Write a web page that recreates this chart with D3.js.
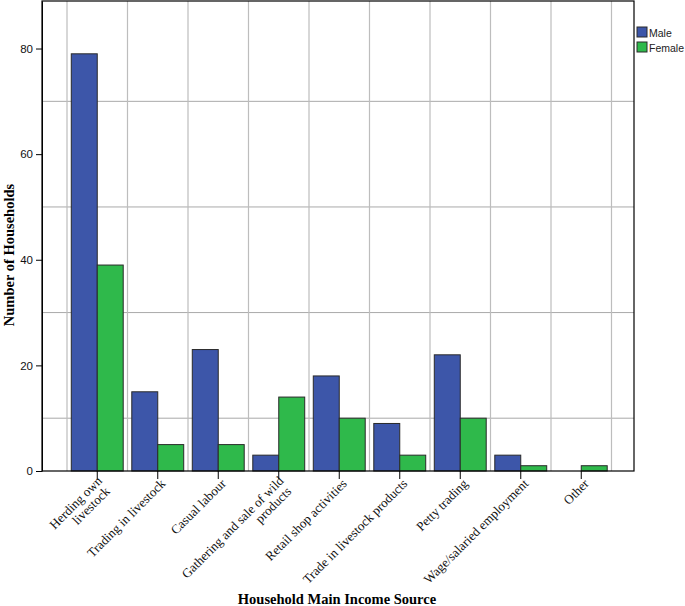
<!DOCTYPE html>
<html>
<head>
<meta charset="utf-8">
<script src="https://cdn.jsdelivr.net/npm/d3@7"></script>
<style>
  html, body { margin: 0; padding: 0; background: #fff; }
  svg { display: block; }
</style>
</head>
<body>
<svg id="chart" width="685" height="606"></svg>
<script>
const categories = [
  ["Herding own", "livestock"],
  ["Trading in livestock"],
  ["Casual labour"],
  ["Gathering and sale of wild", "products"],
  ["Retail shop activities"],
  ["Trade in livestock products"],
  ["Petty trading"],
  ["Wage/salaried employment"],
  ["Other"]
];
const seriesNames = ["Male", "Female"];
const maleValues   = [79, 15, 23, 3, 18, 9, 22, 3, 0];
const femaleValues = [39, 5, 5, 14, 10, 3, 10, 1, 1];
const yTickLabels = [0, 20, 40, 60, 80];
const yGridValues = [10, 30, 50, 70];
const colors = ["#3d56a9", "#2fb94b"];

(function () {
const svg = d3.select("#chart");
const pL = 42, pR = 634, pT = 1, pB = 471;
const catKeys = categories.map(c => c.join(" "));

const x = d3.scaleBand().domain(catKeys).range([67, 611.5]).padding(0);
const xs = d3.scaleBand().domain(seriesNames).range([0, x.bandwidth()]).paddingInner(0).paddingOuter(0.165);
const y = d3.scaleLinear().domain([0, 89]).range([pB, pT]);

// gridlines
const g = svg.append("g");
g.selectAll("line.hg").data(yGridValues).join("line")
  .attr("x1", pL).attr("x2", pR)
  .attr("y1", d => y(d)).attr("y2", d => y(d))
  .attr("stroke", "#a9a9a9").attr("stroke-width", 1);
const vx = catKeys.map(k => x(k)).concat([x.range()[1]]);
g.selectAll("line.vg").data(vx).join("line")
  .attr("x1", d => d).attr("x2", d => d)
  .attr("y1", pT).attr("y2", pB)
  .attr("stroke", "#bdbdbd").attr("stroke-width", 1.2);

// bars
const data = [];
catKeys.forEach((k, i) => {
  data.push({cat: k, s: "Male", v: maleValues[i]});
  data.push({cat: k, s: "Female", v: femaleValues[i]});
});
svg.append("g").selectAll("rect").data(data.filter(d => d.v > 0)).join("rect")
  .attr("x", d => x(d.cat) + xs(d.s))
  .attr("width", xs.bandwidth())
  .attr("y", d => y(d.v))
  .attr("height", d => y(0) - y(d.v))
  .attr("fill", d => colors[seriesNames.indexOf(d.s)])
  .attr("stroke", "#2a2a2a").attr("stroke-width", 1);

// frame
svg.append("rect").attr("x", pL).attr("y", pT).attr("width", pR - pL).attr("height", pB - pT)
  .attr("fill", "none").attr("stroke", "#000").attr("stroke-width", 1.2);

// y axis
const yAxis = d3.axisLeft(y).tickValues(yTickLabels).tickSize(6).tickSizeOuter(0).tickPadding(3).tickFormat(d3.format("d"));
const ya = svg.append("g").attr("transform", `translate(${pL},0)`).call(yAxis);
ya.select(".domain").attr("stroke", "#000");
ya.selectAll("text").attr("font-family", "Liberation Sans, Arial, sans-serif").attr("font-size", 11.5).attr("fill", "#111");

// x axis
const xAxis = d3.axisBottom(x).tickSize(8).tickSizeOuter(0).tickFormat("");
const xa = svg.append("g").attr("transform", `translate(0,${pB})`).call(xAxis);
xa.select(".domain").remove();
xa.selectAll(".tick line").attr("stroke", "#000");

const labels = svg.append("g");
categories.forEach((lines, i) => {
  const cx = x(catKeys[i]) + x.bandwidth() / 2;
  const t = labels.append("text")
    .attr("transform", `translate(${cx + 2},${pB + 7}) rotate(-45)`)
    .attr("text-anchor", "end")
    .attr("font-family", "Liberation Serif, Times New Roman, serif")
    .attr("font-size", 13)
    .attr("fill", "#111");
  lines.forEach((ln, j) => {
    t.append("tspan").attr("x", j === 0 ? 0 : -2).attr("y", 0)
      .attr("dy", (lines.length > 1 ? 0.4 : 0.7) + j * 1.0 + "em")
      .text(ln);
  });
});

// axis titles
svg.append("text")
  .attr("transform", "translate(14,255) rotate(-90)")
  .attr("text-anchor", "middle")
  .attr("font-family", "Liberation Serif, Times New Roman, serif")
  .attr("font-weight", "bold").attr("font-size", 14.5)
  .text("Number of Households");
svg.append("text")
  .attr("x", 337).attr("y", 604)
  .attr("text-anchor", "middle")
  .attr("font-family", "Liberation Serif, Times New Roman, serif")
  .attr("font-weight", "bold").attr("font-size", 14.5)
  .text("Household Main Income Source");

// legend
const lg = svg.append("g").attr("transform", "translate(637,27)");
seriesNames.forEach((s, i) => {
  lg.append("rect").attr("x", 0).attr("y", i * 15).attr("width", 10).attr("height", 10)
    .attr("fill", colors[i]).attr("stroke", "#2a2a2a").attr("stroke-width", 1);
  lg.append("text").attr("x", 12).attr("y", i * 15 + 9.5)
    .attr("font-family", "Liberation Sans, Arial, sans-serif").attr("font-size", 10.5)
    .attr("textLength", i === 1 ? 35 : null)
    .attr("fill", "#222").text(s);
});
})();
</script>
</body>
</html>
